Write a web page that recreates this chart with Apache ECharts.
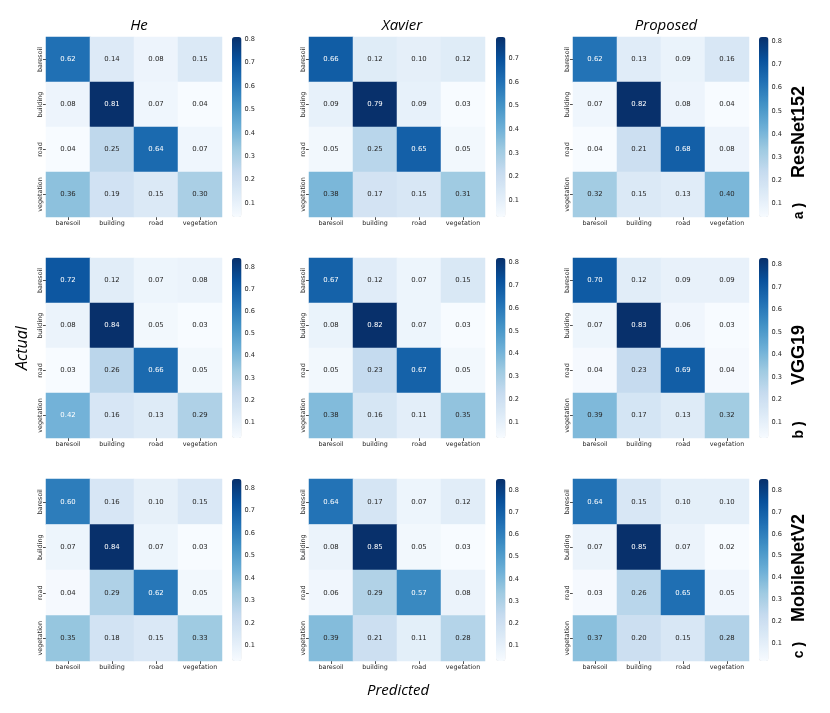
<!DOCTYPE html>
<html>
<head>
<meta charset="utf-8">
<script src="https://cdn.jsdelivr.net/npm/echarts@6/dist/echarts.min.js"></script>
<style>
html,body{margin:0;padding:0;background:#fff;}
#chart{width:830px;height:713px;}
</style>
</head>
<body>
<div id="chart"></div>
<script>
// ---------------- data ----------------
const classes = ['baresoil', 'building', 'road', 'vegetation'];
const initNames = ['He', 'Xavier', 'Proposed'];
const modelNames = ['ResNet152', 'VGG19', 'MobileNetV2'];
const panelTags = ['a )', 'b )', 'c )'];
const colorbarTicks = [0.1, 0.2, 0.3, 0.4, 0.5, 0.6, 0.7, 0.8];

// rows = actual, columns = predicted
const resnetHe       = [[0.62,0.14,0.08,0.15],[0.08,0.81,0.07,0.04],[0.04,0.25,0.64,0.07],[0.36,0.19,0.15,0.30]];
const resnetXavier   = [[0.66,0.12,0.10,0.12],[0.09,0.79,0.09,0.03],[0.05,0.25,0.65,0.05],[0.38,0.17,0.15,0.31]];
const resnetProposed = [[0.62,0.13,0.09,0.16],[0.07,0.82,0.08,0.04],[0.04,0.21,0.68,0.08],[0.32,0.15,0.13,0.40]];
const vggHe          = [[0.72,0.12,0.07,0.08],[0.08,0.84,0.05,0.03],[0.03,0.26,0.66,0.05],[0.42,0.16,0.13,0.29]];
const vggXavier      = [[0.67,0.12,0.07,0.15],[0.08,0.82,0.07,0.03],[0.05,0.23,0.67,0.05],[0.38,0.16,0.11,0.35]];
const vggProposed    = [[0.70,0.12,0.09,0.09],[0.07,0.83,0.06,0.03],[0.04,0.23,0.69,0.04],[0.39,0.17,0.13,0.32]];
const mobileHe       = [[0.60,0.16,0.10,0.15],[0.07,0.84,0.07,0.03],[0.04,0.29,0.62,0.05],[0.35,0.18,0.15,0.33]];
const mobileXavier   = [[0.64,0.17,0.07,0.12],[0.08,0.85,0.05,0.03],[0.06,0.29,0.57,0.08],[0.39,0.21,0.11,0.28]];
const mobileProposed = [[0.64,0.15,0.10,0.10],[0.07,0.85,0.07,0.02],[0.03,0.26,0.65,0.05],[0.37,0.20,0.15,0.28]];

const matrices = [
  [resnetHe, resnetXavier, resnetProposed],
  [vggHe, vggXavier, vggProposed],
  [mobileHe, mobileXavier, mobileProposed]
];

// ---------------- style / layout ----------------
const BLUES = ['#f7fbff','#deebf7','#c6dbef','#9ecae1','#6baed6','#4292c6','#2171b5','#08519c','#08306b'];
const colLeft = [46, 309, 573];
const heatW = 176;
const cbLeft = [232, 496, 759];
const cbW = 9.5;
const rowTop = [37, 258, 479];
const rowH = [180, 180, 182];
const TXT = '#262626';
const FONT = 'DejaVu Sans';

function hexToRgb(h){ return [parseInt(h.substr(1,2),16), parseInt(h.substr(3,2),16), parseInt(h.substr(5,2),16)]; }
function bluesAt(t){
  t = Math.max(0, Math.min(1, t));
  const p = t * (BLUES.length - 1);
  const i = Math.min(Math.floor(p), BLUES.length - 2);
  const f = p - i;
  const a = hexToRgb(BLUES[i]), b = hexToRgb(BLUES[i+1]);
  return [0,1,2].map(k => a[k] + (b[k]-a[k]) * f);
}
function relLum(rgb){
  const c = rgb.map(v => { v /= 255; return v <= 0.03928 ? v/12.92 : Math.pow((v+0.055)/1.055, 2.4); });
  return 0.2126*c[0] + 0.7152*c[1] + 0.0722*c[2];
}

const grid = [], xAxis = [], yAxis = [], series = [], visualMap = [], title = [], graphic = [];
let g = 0;
for (let r = 0; r < 3; r++) {
  for (let c = 0; c < 3; c++) {
    const m = matrices[r][c];
    const flat = m.flat();
    const vmin = Math.min(...flat), vmax = Math.max(...flat);
    // heatmap grid
    grid.push({left: colLeft[c], top: rowTop[r], width: heatW, height: rowH[r]});
    xAxis.push({
      type: 'category', gridIndex: g, data: classes, position: 'bottom',
      axisLine: {show: false}, splitLine: {show: false},
      axisTick: {show: true, alignWithLabel: true, interval: 0, length: 3, lineStyle: {color: TXT, width: 0.8}},
      axisLabel: {interval: 0, hideOverlap: false, fontSize: 6.4, color: TXT, fontFamily: FONT, margin: 3}
    });
    yAxis.push({
      type: 'category', gridIndex: g, data: classes, inverse: true,
      axisLine: {show: false}, splitLine: {show: false},
      axisTick: {show: true, alignWithLabel: true, interval: 0, length: 3, lineStyle: {color: TXT, width: 0.8}},
      axisLabel: {interval: 0, hideOverlap: false, fontSize: 6.4, color: TXT, fontFamily: FONT, rotate: 90, margin: 3, align: 'center'}
    });
    const data = [];
    for (let i = 0; i < 4; i++) for (let j = 0; j < 4; j++) {
      const v = m[i][j];
      const lum = relLum(bluesAt((v - vmin) / (vmax - vmin)));
      data.push({value: [j, i, v], label: {color: lum > 0.408 ? TXT : '#ffffff'}});
    }
    const sIdx = series.length;
    series.push({
      type: 'heatmap', xAxisIndex: g, yAxisIndex: g, data: data,
      label: {show: true, fontSize: 6.9, fontFamily: FONT, formatter: p => p.value[2].toFixed(2)},
      emphasis: {disabled: true}
    });
    visualMap.push({
      type: 'continuous', seriesIndex: sIdx, min: vmin, max: vmax,
      inRange: {color: BLUES}, calculable: false, padding: 0,
      left: cbLeft[c], top: rowTop[r], itemWidth: cbW, itemHeight: rowH[r],
      orient: 'vertical', hoverLink: false
    });
    g++;
    // colorbar axis grid
    grid.push({left: cbLeft[c], top: rowTop[r], width: cbW, height: rowH[r]});
    xAxis.push({type: 'value', gridIndex: g, show: false, min: 0, max: 1});
    const ticks = colorbarTicks.filter(t => t >= vmin && t <= vmax);
    yAxis.push({
      type: 'value', gridIndex: g, min: vmin, max: vmax, position: 'right',
      axisLine: {show: false}, splitLine: {show: false},
      axisTick: {show: true, length: 3, customValues: ticks, lineStyle: {color: TXT, width: 0.8}},
      axisLabel: {show: true, customValues: ticks, fontSize: 6.6, color: TXT, fontFamily: FONT, margin: 3,
                  formatter: v => v.toFixed(1)}
    });
    g++;
  }
}

// column titles
for (let c = 0; c < 3; c++) {
  title.push({
    text: initNames[c], left: colLeft[c] + heatW/2, top: 13, textAlign: 'center',
    textStyle: {fontFamily: 'Open Sans', fontStyle: 'italic', fontWeight: 'normal', fontSize: 15, color: '#000'}
  });
}
// row labels
const rowLabelY = [132, 355, 568];
const tagY = [211, 430, 650];
for (let r = 0; r < 3; r++) {
  graphic.push({type: 'text', x: 799, y: rowLabelY[r], rotation: Math.PI/2,
    style: {text: modelNames[r], fontSize: 18, fontWeight: 'bold', fontFamily: 'Liberation Sans', fill: '#000', align: 'center', verticalAlign: 'middle'}});
  graphic.push({type: 'text', x: 799, y: tagY[r], rotation: Math.PI/2,
    style: {text: panelTags[r], fontSize: 14, fontWeight: 'bold', fontFamily: 'Liberation Sans', fill: '#000', align: 'center', verticalAlign: 'middle'}});
}
graphic.push({type: 'text', x: 22, y: 348, rotation: Math.PI/2,
  style: {text: 'Actual', fontSize: 16, fontFamily: 'Open Sans', fontStyle: 'italic', fill: '#000', align: 'center', verticalAlign: 'middle'}});
graphic.push({type: 'text', x: 398, y: 691,
  style: {text: 'Predicted', fontSize: 15, fontFamily: 'Open Sans', fontStyle: 'italic', fill: '#000', align: 'center', verticalAlign: 'middle'}});

const chart = echarts.init(document.getElementById('chart'), null, {renderer: 'canvas'});
chart.setOption({
  animation: false,
  backgroundColor: '#ffffff',
  title, grid, xAxis, yAxis, series, visualMap, graphic
});
</script>
</body>
</html>
